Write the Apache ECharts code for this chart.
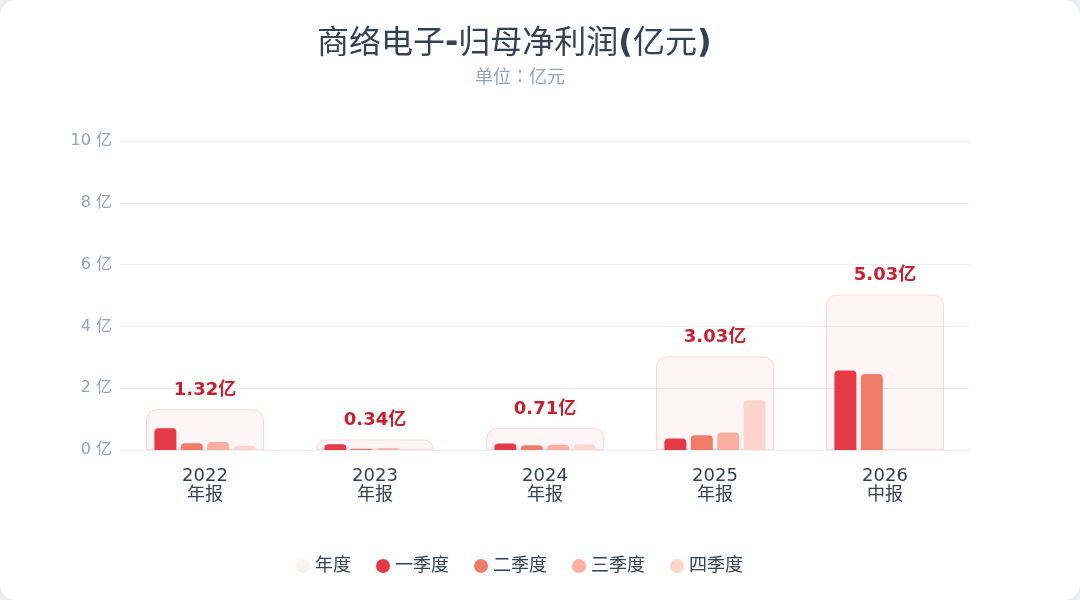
<!DOCTYPE html>
<html>
<head>
<meta charset="utf-8">
<script src="https://cdn.jsdelivr.net/npm/echarts@6/dist/echarts.min.js"></script>
<style>
html, body { margin: 0; padding: 0; background: #eceef2; }
#main { width: 1080px; height: 600px; background: #fff; border-radius: 16px; }
</style>
</head>
<body>
<div id="main"></div>
<script>
var years = ['2022\n年报', '2023\n年报', '2024\n年报', '2025\n年报', '2026\n中报'];
var annual = [1.32, 0.34, 0.71, 3.03, 5.03];
var q1 = [0.70, 0.19, 0.21, 0.37, 2.57];
var q2 = [0.22, 0.04, 0.15, 0.48, 2.46];
var q3 = [0.26, 0.06, 0.17, 0.57, null];
var q4 = [0.14, 0, 0.18, 1.61, null];
var seriesNames = ['年度', '一季度', '二季度', '三季度', '四季度'];
var colors = ['#fcf1f2', '#e63946', '#f07b67', '#fcaea0', '#fdd5cc'];

var font = "'DejaVu Sans','Noto Sans CJK SC',sans-serif";
var cjk = "'Noto Sans CJK SC',sans-serif";

// 季度柱
function quarterSeries(name, data, color) {
    return {
        name: name,
        type: 'bar',
        xAxisIndex: 0,
        data: data,
        barWidth: 22,
        barGap: '20%',
        z: 3,
        itemStyle: { color: color, borderRadius: [4, 4, 0, 0] }
    };
}

var option = {
    textStyle: { fontFamily: font },
    title: [{
        text: '商络电子{b|-}归母净利润{b|(}亿元{b|)}',
        left: 312,
        top: 17,
        textStyle: {
            fontSize: 32, color: '#334155', fontWeight: 'normal', fontFamily: cjk,
            rich: {
                b: { fontSize: 32, color: '#334155', fontWeight: 'bold', fontFamily: 'DejaVu Sans', padding: [6, 0, 0, 0] }
            }
        }
    }, {
        text: '单位：亿元',
        left: 470,
        top: 62,
        textStyle: { fontSize: 18, color: '#94a3b8', fontWeight: 'normal', fontFamily: "'Noto Sans CJK TC',sans-serif" }
    }],
    legend: {
        bottom: 20,
        left: 291,
        icon: 'circle',
        itemWidth: 14,
        itemHeight: 14,
        itemGap: 25,
        textStyle: { fontSize: 18, color: '#334155', fontFamily: font },
        data: [
            { name: seriesNames[0], itemStyle: { color: colors[0], borderWidth: 0 } },
            seriesNames[1], seriesNames[2], seriesNames[3], seriesNames[4]
        ]
    },
    grid: { left: 120, right: 110, top: 141, bottom: 150 },
    xAxis: [{
        type: 'category',
        data: years,
        axisLine: { show: false },
        axisTick: { show: false },
        axisLabel: { color: '#334155', fontSize: 18, lineHeight: 19, margin: 17 }
    }, {
        type: 'category',
        data: years,
        show: false
    }],
    yAxis: {
        type: 'value',
        min: 0,
        max: 10,
        interval: 2,
        axisLine: { show: false },
        axisTick: { show: false },
        axisLabel: { formatter: '{value} 亿', color: '#94a3b8', fontSize: 16, margin: 8 },
        splitLine: { lineStyle: { color: '#eceef4' } }
    },
    series: [
        {
            name: seriesNames[0],
            type: 'bar',
            xAxisIndex: 1,
            data: annual,
            barWidth: 118,
            z: 1,
            itemStyle: {
                color: 'rgba(230,57,70,0.05)',
                borderColor: 'rgba(230,57,70,0.16)',
                borderWidth: 1,
                borderRadius: [10, 10, 0, 0]
            },
            label: {
                show: true,
                position: 'top',
                distance: 10,
                formatter: function (p) { return p.value + '亿'; },
                color: '#c8202f',
                fontSize: 18,
                fontWeight: 'bold'
            }
        },
        quarterSeries(seriesNames[1], q1, colors[1]),
        quarterSeries(seriesNames[2], q2, colors[2]),
        quarterSeries(seriesNames[3], q3, colors[3]),
        quarterSeries(seriesNames[4], q4, colors[4])
    ],
    color: colors
};

var myChart = echarts.init(document.getElementById('main'));
myChart.setOption(option);
</script>
</body>
</html>
